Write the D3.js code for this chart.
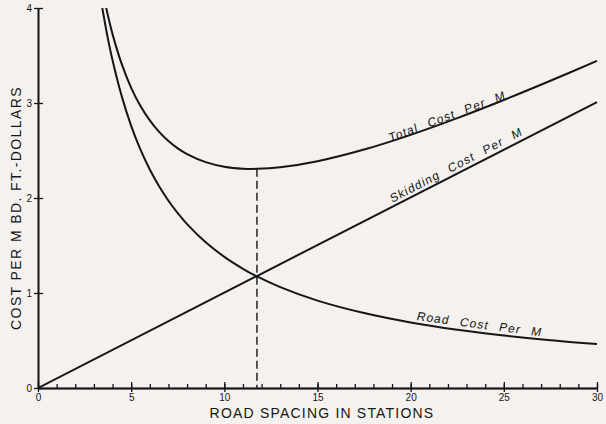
<!DOCTYPE html>
<html><head><meta charset="utf-8">
<script src="https://cdn.jsdelivr.net/npm/d3@7/dist/d3.min.js"></script>
<style>html,body{margin:0;padding:0;background:#f4f1ef;}svg{display:block;}</style>
</head><body>
<svg id="c" width="606" height="424"></svg>
<script>
// Data
const skidX = [0, 30];
const skidY = [0, 3.01];
const roadX = [3.45, 3.75, 4, 4.5, 5, 5.5, 6, 6.5, 7, 7.5, 8, 9, 10, 11, 11.75, 13, 15, 17.5, 20, 22.5, 25, 27.5, 30];
const roadY = [4.000, 3.680, 3.450, 3.067, 2.760, 2.509, 2.300, 2.123, 1.971, 1.840, 1.725, 1.533, 1.380, 1.255, 1.174, 1.062, 0.920, 0.789, 0.690, 0.613, 0.552, 0.502, 0.462];
const totalX = [3.65, 4, 4.5, 5, 5.5, 6, 6.5, 7, 7.5, 8, 9, 10, 11, 11.75, 13, 15, 17.5, 20, 22.5, 25, 27.5, 30];
const totalY = [4.009, 3.725, 3.406, 3.160, 2.968, 2.817, 2.696, 2.600, 2.523, 2.463, 2.378, 2.330, 2.309, 2.307, 2.323, 2.387, 2.510, 2.665, 2.841, 3.032, 3.234, 3.443];
const optimumX = 11.75;
const optimumY = 2.307;
const xMajorTicks = [0, 5, 10, 15, 20, 25, 30];
const xMinorTicks = d3.range(0, 31, 1);
const yTicks = [0, 1, 2, 3, 4];
const xTitle = "ROAD SPACING IN STATIONS";
const yTitle = "COST PER M BD. FT.-DOLLARS";
const curveLabels = ["Total Cost Per M", "Skidding Cost Per M", "Road Cost Per M"];

const svg = d3.select("#c");
const ink = "#161616";
const font = "Liberation Sans, Arial, sans-serif";
const x = d3.scaleLinear().domain([0, 30]).range([38, 597]);
const y = d3.scaleLinear().domain([0, 4]).range([388, 8]);

svg.append("defs").append("clipPath").attr("id", "clip")
  .append("rect").attr("x", x(0)).attr("y", y(4)).attr("width", x(30) - x(0) + 4).attr("height", y(0) - y(4));

// Axes
const gx = svg.append("g").attr("transform", `translate(0,${y(0)})`);
gx.call(d3.axisBottom(x).tickValues(xMinorTicks).tickSize(-4).tickSizeOuter(0).tickFormat(""));
gx.append("g").call(d3.axisBottom(x).tickValues(xMajorTicks).tickSize(4).tickSizeOuter(0).tickPadding(2).tickFormat(d3.format("d")));
gx.append("g").call(d3.axisBottom(x).tickValues(xMajorTicks).tickSize(-6).tickSizeOuter(0).tickFormat(""));
const gy = svg.append("g").attr("transform", `translate(${x(0)},0)`);
gy.call(d3.axisLeft(y).tickValues(yTicks).tickSize(4).tickSizeOuter(0).tickPadding(2).tickFormat(d3.format("d")));
gy.append("g").call(d3.axisLeft(y).tickValues(yTicks).tickSize(-5).tickSizeOuter(0).tickFormat(""));
svg.selectAll(".domain").attr("stroke", ink).attr("stroke-width", 1.6);
svg.selectAll(".tick line").attr("stroke", ink).attr("stroke-width", 1.3);
svg.selectAll(".tick text").attr("fill", ink).attr("font-family", font).attr("font-size", 10);

// Curves
const line = d3.line().x(d => x(d[0])).y(d => y(d[1])).curve(d3.curveCatmullRom.alpha(0.5));
const plot = svg.append("g").attr("clip-path", "url(#clip)");
[[skidX, skidY], [roadX, roadY], [totalX, totalY]].forEach(([xs, ys]) => {
  plot.append("path").datum(d3.zip(xs, ys)).attr("d", line)
    .attr("fill", "none").attr("stroke", ink).attr("stroke-width", 2);
});

// Dashed optimum line
svg.append("line").attr("x1", x(optimumX)).attr("x2", x(optimumX))
  .attr("y1", y(optimumY)).attr("y2", y(0))
  .attr("stroke", ink).attr("stroke-width", 1.4).attr("stroke-dasharray", "8,4");

// Curve labels
const lab = (t, px, py, ang) => svg.append("text").text(t)
  .attr("transform", `translate(${px},${py}) rotate(${ang}) skewX(-8)`)
  .attr("font-family", font).attr("font-size", 12)
  .attr("letter-spacing", 1.1).attr("word-spacing", 6)
  .attr("fill", ink);
lab(curveLabels[0], 390, 142, -20.5);
lab(curveLabels[1], 392, 203, -27.5);
lab(curveLabels[2], 416, 320, 7.5);

// Axis titles
svg.append("text").text(xTitle).attr("x", 322).attr("y", 418).attr("text-anchor", "middle")
  .attr("font-family", font).attr("font-size", 14)
  .attr("letter-spacing", 1.2).attr("fill", ink);
svg.append("text").text(yTitle).attr("transform", "translate(21,208) rotate(-90)").attr("text-anchor", "middle")
  .attr("font-family", font).attr("font-size", 14)
  .attr("letter-spacing", 1.4).attr("fill", ink);
</script>
</body></html>
